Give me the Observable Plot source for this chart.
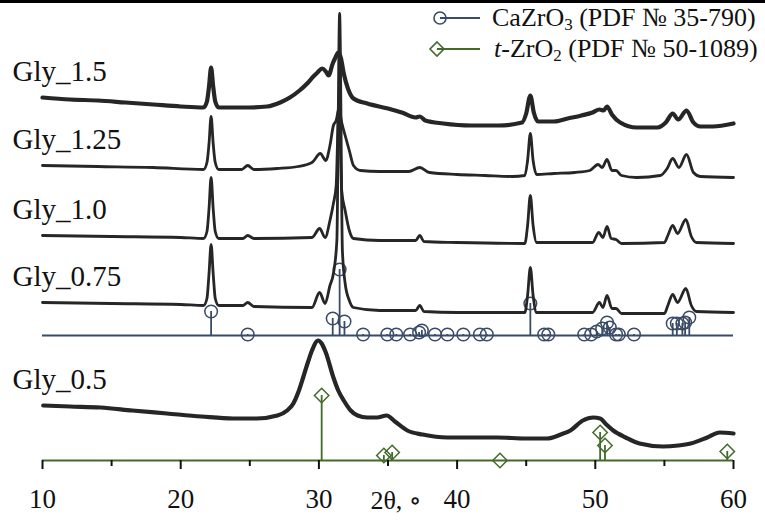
<!DOCTYPE html>
<html>
<head>
<meta charset="utf-8">
<script src="https://cdn.jsdelivr.net/npm/d3@7"></script>
<script src="https://cdn.jsdelivr.net/npm/@observablehq/plot@0.6"></script>
<style>
  html, body { margin: 0; padding: 0; background: #fff; }
  #wrap { position: relative; width: 765px; height: 523px; overflow: hidden; font-family: "Liberation Serif", "Times New Roman", Tinos, Times, "Nimbus Roman", "DejaVu Serif", "Noto Serif", serif; }
  #topbar { position: absolute; left: 0; top: 0; width: 765px; height: 3px; background: #000; }
  .leg { position: absolute; left: 428px; width: 340px; height: 30px; font-size: 26px; color: #111; white-space: nowrap; }
  .leg svg { position: absolute; left: 0; top: 0; }
  .leg span { position: absolute; left: 64px; top: 0; line-height: 30px; }
  .leg sub { font-size: 17px; vertical-align: -4px; line-height: 0; }
</style>
</head>
<body>
<div id="wrap">
  <div id="chart"></div>
  <div id="topbar"></div>
  <div class="leg" style="top:3px">
    <svg width="60" height="30"><line x1="12" y1="15" x2="52" y2="15" stroke="#394b66" stroke-width="1.8"/><circle cx="12" cy="15" r="6" fill="none" stroke="#394b66" stroke-width="1.6"/></svg>
    <span>CaZrO<sub>3</sub> (PDF № 35-790)</span>
  </div>
  <div class="leg" style="top:34px">
    <svg width="60" height="30"><line x1="9" y1="15" x2="52" y2="15" stroke="#43692b" stroke-width="1.8"/><path d="M9,8 L16,15 L9,22 L2,15 Z" fill="none" stroke="#43692b" stroke-width="1.6"/></svg>
    <span style="left:66px"><i>t</i>-ZrO<sub>2</sub> (PDF № 50-1089)</span>
  </div>
</div>
<script>
// ---- axis ----
const xDomain = [10, 60];
const majorTicks = [10, 20, 30, 40, 50, 60];
const minorTicks = [15, 25, 35, 45, 55];
const axisLabel = "2θ, ∘";

// ---- pattern labels ----
const labels = ["Gly_1.5", "Gly_1.25", "Gly_1.0", "Gly_0.75", "Gly_0.5"];

// ---- stacked XRD patterns: [2θ, intensity (a.u., stacked)] ----
const gly15 = [[10,363],[12,361],[14,360],[16,358],[18,356],[20,354],[21.65,353],[21.9,359],[22.05,374],[22.2,393],[22.35,374],[22.5,359],[22.75,353],[24,353],[25,353],[26.25,354],[27.2,358],[27.9,363],[28.6,370],[29.15,377],[29.6,384],[29.9,388],[30.24,392],[30.5,389],[30.7,385],[31.0,397],[31.2,403],[31.4,408],[31.6,402],[31.8,387],[32.1,372],[32.5,362],[33.5,357],[35,352],[36,348],[37,343],[37.3,344],[37.7,340],[39,337],[41,335],[43,335],[44.7,338],[45.0,347],[45.3,365],[45.55,348],[45.85,339],[47,339],[48,342],[49,345],[49.8,348],[50.3,351],[50.6,350],[50.85,354],[51.2,346],[51.8,338],[53,333],[54.5,333],[55.1,338],[55.6,347],[56.0,341],[56.6,350],[57.1,338],[57.6,334],[58.5,334],[60,337]];
const gly125 = [[10,295],[14,294],[18,293],[21.65,291],[21.9,298],[22.05,317],[22.2,344],[22.35,317],[22.5,298],[22.75,291],[24.4,291],[24.85,295],[25.3,291],[27,292],[28.5,294],[29.5,298],[30.1,307],[30.5,300],[30.8,315],[31.05,335],[31.25,340],[31.45,352],[31.65,338],[31.9,325],[32.2,310],[32.5,295],[33,290],[34.4,289],[36.5,289],[37.3,293],[38,288],[40,286],[42,285],[44,284],[44.9,285],[45.1,300],[45.3,327],[45.5,300],[45.75,286],[47,287],[48.5,288],[49.6,290],[50.2,296],[50.5,293],[50.85,301],[51.2,290],[51.5,290],[51.9,285],[53,283],[54.7,285],[55.2,292],[55.6,302],[56.05,293],[56.6,306],[57.1,288],[57.6,284],[60,283]];
const gly10 = [[10,225],[15,224],[20,223],[21.65,222],[21.9,229],[22.05,252],[22.2,283],[22.35,252],[22.5,229],[22.75,222],[24.5,222],[24.85,225],[25.3,222],[29.5,223],[30.05,232],[30.45,223],[30.8,240],[31.05,257],[31.25,275],[31.45,360],[31.65,270],[31.9,250],[32.2,230],[32.5,222],[34.4,220],[37,220],[37.3,225],[37.6,219],[40,218],[44.9,217],[45.1,235],[45.3,265],[45.5,235],[45.75,218],[49.8,218],[50.25,228],[50.55,223],[50.85,234],[51.15,222],[51.5,221],[51.9,217],[55.0,218],[55.25,225],[55.6,235],[55.95,227],[56.55,241],[56.95,224],[57.3,218],[60,217]];
const gly075 = [[10,158],[15,157],[20,156],[21.65,155],[21.9,162],[22.05,187],[22.2,216],[22.35,187],[22.5,162],[22.75,155],[24.5,155],[24.85,158],[25.3,154],[29.5,153],[30.05,168],[30.45,157],[30.8,175],[31.05,187],[31.3,220],[31.5,447],[31.7,210],[31.9,177],[32.2,160],[32.5,153],[34.4,150],[37,150],[37.3,155],[37.6,149],[40,148],[44.9,148],[45.1,165],[45.3,193],[45.5,165],[45.75,148],[49.8,148],[50.3,158],[50.55,153],[50.85,165],[51.2,152],[51.5,152],[51.9,147],[55.0,147],[55.25,155],[55.6,166],[55.95,158],[56.55,172],[56.95,155],[57.3,149],[60,148]];
const gly05 = [[10.05,55],[12,54],[14.2,53],[16.5,50],[19,47],[21.5,44],[23.8,42],[25.5,42],[27,45],[27.7,50],[28.15,57],[28.5,68],[28.86,83],[29.2,98],[29.5,110],[29.95,120],[30.2,117],[30.5,108],[31.05,83],[31.4,70],[31.8,60],[32.3,50],[32.8,45],[33.5,43],[34.2,43],[34.9,45],[35.5,39],[36.4,30],[37.5,26],[39.3,23],[42.9,23],[45,22],[46.5,22],[47.5,26],[48.2,30],[49.1,40],[49.85,43],[50.35,42],[50.8,36],[51.3,30],[52.2,23],[53.2,17],[54.9,14],[56.0,15],[56.9,17],[58.1,23],[59.0,28],[60,27]];

// ---- reference patterns ----
const czBase = 125; // CaZrO3 reference baseline (stacked a.u.)
const czTheta = [22.2,24.85,31.0,31.5,31.85,33.2,34.95,35.6,36.6,37.25,37.45,38.4,39.3,40.45,41.65,42.15,45.3,46.3,46.6,49.2,49.7,50.1,50.5,50.85,51.05,51.5,51.7,52.8,55.6,55.9,56.3,56.5,56.8];
const czInt   = [24,1,17,66,14,1,1,1,1,3,5,1,1,1,1,1,32,1,1,1,1,4,7,13,8,1,1,1,12,12,12,13,18];
const tzTheta = [30.2,34.7,35.3,43.1,50.35,50.7,59.55];
const tzInt   = [65,5,8,0,28,15,9];

const series = [gly15, gly125, gly10, gly075, gly05];
const widths = [4.2, 2.8, 2.8, 2.8, 4.2];
const ink = "#262626";
const czColor = "#394b66";
const tzColor = "#43692b";
const serifFont = '"Liberation Serif", "Times New Roman", Tinos, Times, "Nimbus Roman", "DejaVu Serif", "Noto Serif", serif';

const labelData = series.map((s, i) => ({k: labels[i], v: s[0][1]}));
const czData = czTheta.map((t, i) => ({t, h: czBase + czInt[i]}));
const tzData = tzTheta.map((t, i) => ({t, h: tzInt[i]}));

const marks = [
  Plot.ruleY([czBase], {x1: xDomain[0], x2: xDomain[1], stroke: czColor, strokeWidth: 1.8}),
  Plot.ruleX(czData, {x: "t", y1: czBase, y2: "h", stroke: czColor, strokeWidth: 1.8}),
  Plot.dot(czData, {x: "t", y: "h", r: 6.3, stroke: czColor, strokeWidth: 1.5, fill: "none"}),
  Plot.ruleY([0], {x1: xDomain[0], x2: xDomain[1], stroke: tzColor, strokeWidth: 2.2}),
  Plot.ruleX(tzData, {x: "t", y1: 0, y2: "h", stroke: tzColor, strokeWidth: 1.8}),
  Plot.dot(tzData, {x: "t", y: "h", r: 6.5, symbol: "diamond2", stroke: tzColor, strokeWidth: 1.5, fill: "none"}),
];
series.forEach((s, i) => {
  marks.push(Plot.line(s, {x: d => d[0], y: d => d[1], stroke: ink, strokeWidth: widths[i], curve: "monotone-x", strokeLinejoin: "round"}));
});
marks.push(
  Plot.text(labelData, {text: "k", y: "v", frameAnchor: "left", textAnchor: "start", dx: -30, dy: -26, fontSize: 29, fill: "#111", fontFamily: serifFont}),
  Plot.axisX({ticks: majorTicks, tickSize: 9, tickPadding: 19, strokeWidth: 2, stroke: "#111", fontSize: 27, fill: "#111", fontFamily: serifFont, label: null, tickFormat: d => String(d)}),
  Plot.axisX({ticks: minorTicks, tickSize: 6, strokeWidth: 2, stroke: "#111", tickFormat: () => "", label: null}),
  Plot.text([axisLabel], {frameAnchor: "bottom", dx: 8, dy: 48, fontSize: 26, fill: "#111", fontFamily: serifFont})
);

const chart = Plot.plot({
  width: 765,
  height: 523,
  marginLeft: 42,
  marginRight: 32,
  marginTop: 0,
  marginBottom: 63,
  x: {domain: xDomain, axis: null},
  y: {domain: [0, 460], axis: null},
  style: {fontFamily: serifFont, background: "#fff", overflow: "visible"},
  marks
});
document.getElementById("chart").appendChild(chart);
</script>
</body>
</html>
